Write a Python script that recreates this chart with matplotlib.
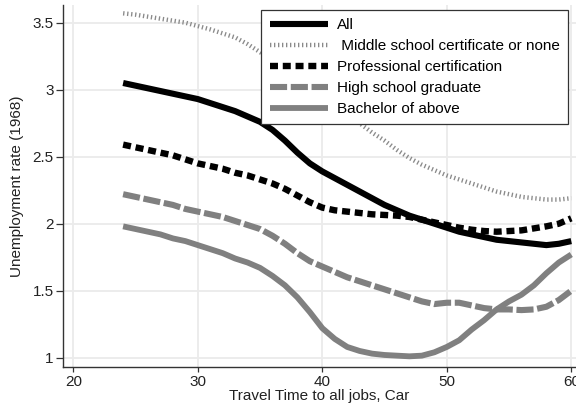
import matplotlib
matplotlib.use("Agg")
import matplotlib.pyplot as plt

plt.rcParams['font.family'] = ['Liberation Sans', 'DejaVu Sans']

travel_time = list(range(24, 61))

all_rate = [3.05, 3.03, 3.01, 2.99, 2.97, 2.95, 2.93, 2.90, 2.87, 2.84, 2.80, 2.76, 2.70,
            2.62, 2.53, 2.45, 2.39, 2.34, 2.29, 2.24, 2.19, 2.14, 2.10, 2.06, 2.03, 2.00,
            1.97, 1.94, 1.92, 1.90, 1.88, 1.87, 1.86, 1.85, 1.84, 1.85, 1.87]
middle_school = [3.57, 3.56, 3.545, 3.53, 3.515, 3.50, 3.475, 3.45, 3.42, 3.39, 3.34, 3.28,
                 3.22, 3.16, 3.09, 3.02, 2.95, 2.88, 2.81, 2.75, 2.68, 2.62, 2.55, 2.49, 2.44,
                 2.40, 2.36, 2.33, 2.30, 2.27, 2.24, 2.22, 2.20, 2.19, 2.18, 2.18, 2.19]
professional = [2.59, 2.57, 2.55, 2.53, 2.51, 2.48, 2.45, 2.43, 2.41, 2.38, 2.36, 2.33, 2.30,
                2.26, 2.21, 2.16, 2.12, 2.10, 2.09, 2.08, 2.07, 2.065, 2.06, 2.05, 2.03, 2.01,
                1.99, 1.97, 1.955, 1.945, 1.94, 1.945, 1.95, 1.965, 1.98, 2.00, 2.04]
high_school = [2.22, 2.20, 2.18, 2.16, 2.14, 2.11, 2.09, 2.07, 2.05, 2.02, 1.99, 1.96, 1.91,
               1.85, 1.78, 1.72, 1.68, 1.64, 1.60, 1.57, 1.54, 1.51, 1.48, 1.45, 1.42, 1.40,
               1.41, 1.41, 1.39, 1.37, 1.36, 1.36, 1.355, 1.36, 1.38, 1.43, 1.50]
bachelor = [1.98, 1.96, 1.94, 1.92, 1.89, 1.87, 1.84, 1.81, 1.78, 1.74, 1.71, 1.67, 1.61,
            1.54, 1.45, 1.34, 1.22, 1.14, 1.08, 1.05, 1.03, 1.02, 1.015, 1.01, 1.015, 1.04,
            1.08, 1.13, 1.21, 1.28, 1.36, 1.42, 1.47, 1.54, 1.63, 1.71, 1.77]

labels = ["All", " Middle school certificate or none", "Professional certification",
          "High school graduate", "Bachelor of above"]
x_ticks = [20, 30, 40, 50, 60]
y_ticks = [1, 1.5, 2, 2.5, 3, 3.5]
y_tick_labels = ["1", "1.5", "2", "2.5", "3", "3.5"]

fig = plt.figure(figsize=(5.76, 4.11), dpi=100)
ax = fig.add_axes([0.110, 0.1063, 0.890, 0.8815])

grey = '#808080'
ax.plot(travel_time, all_rate, color='black', lw=4.4, solid_capstyle='butt', label=labels[0])
ax.plot(travel_time, middle_school, color='#8a8a8a', lw=3.2,
        linestyle=(0, (0.3, 0.6)), dash_capstyle='butt', label=labels[1])
ax.plot(travel_time, professional, color='black', lw=4.6,
        linestyle=(0, (1.25, 0.75)), dash_capstyle='butt', label=labels[2])
ax.plot(travel_time, high_school, color=grey, lw=4.4,
        linestyle=(0, (2.8, 0.6)), dash_capstyle='butt', label=labels[3])
ax.plot(travel_time, bachelor, color=grey, lw=4.2, solid_capstyle='butt', label=labels[4])

ax.set_xlim(19.2, 60.38)
ax.set_ylim(0.928, 3.632)
ax.set_xticks(x_ticks)
ax.set_yticks(y_ticks)
ax.set_yticklabels(y_tick_labels)
ax.grid(True, color='#ebebeb', lw=1.3)
ax.set_axisbelow(True)
for s in ['top', 'right']:
    ax.spines[s].set_visible(False)
for s in ['left', 'bottom']:
    ax.spines[s].set_color('#333333')
    ax.spines[s].set_linewidth(1.0)
ax.tick_params(axis='y', length=5, width=0.9, color='#333333', labelsize=11, pad=2, labelcolor='#222222')
ax.tick_params(axis='x', length=3.5, width=0.9, color='#333333', labelsize=11, pad=2, labelcolor='#222222')
ax.set_xlabel("Travel Time to all jobs, Car", fontsize=11, color='#222222', labelpad=0)
ax.set_ylabel("Unemployment rate (1968)", fontsize=11, color='#222222', labelpad=6)

leg = ax.legend(loc='upper right', bbox_to_anchor=(0.985, 0.986), borderaxespad=0,
                fontsize=11, handlelength=3.8, handletextpad=0.6, labelspacing=0.45,
                borderpad=0.55, fancybox=False, framealpha=1, edgecolor='#333333')
leg.get_frame().set_linewidth(0.9)

fig.savefig("out.png", dpi=100)
